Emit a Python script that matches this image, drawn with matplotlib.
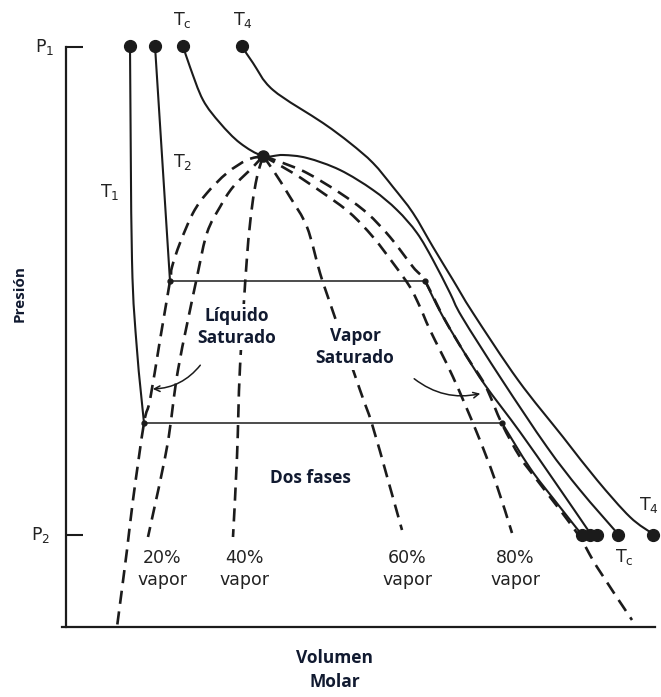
import numpy as np
import matplotlib
matplotlib.use('Agg')
import matplotlib.pyplot as plt
from matplotlib.path import Path
from matplotlib.patches import PathPatch

plt.rcParams['lines.scale_dashes'] = False
plt.rcParams['mathtext.fontset'] = 'dejavusans'

# Schematic P-V diagram, arbitrary units (volume, pressure).
crit = (197, 471)
p_high = 581
p_low = 92

# Isotherms: (volume, pressure) points.
t1_liq = [(64, 581), (66, 367), (71, 277), (78, 204)]
t1_tie = [(78, 204), (436, 204)]
t1_vap = [(436, 204), (464, 159), (490, 125), (516, 92)]

t2_liq = [(89, 581), (104, 346)]
t2_tie = [(104, 346), (359, 346)]
t2_vap = [(359, 346), (376, 312), (401, 270), (419, 242), (454, 195), (489, 145), (524, 94)]

tc_curve = [(117, 581), (124, 560), (137, 527), (154, 504), (174, 484), (197, 471),
            (217, 472), (241, 469), (274, 457), (307, 437), (331, 417), (351, 394),
            (367, 367), (384, 334), (396, 310), (436, 247), (481, 180), (514, 137),
            (552, 93)]

t4_curve = [(177, 579), (187, 564), (207, 537), (257, 504), (284, 484),
            (307, 464), (327, 440), (347, 414), (367, 380), (387, 347), (407, 314),
            (452, 247), (497, 190), (531, 147), (564, 110), (587, 93)]

# Dashed quality lines from the critical point.
sat_liquid = [(197, 471), (181, 467), (161, 454), (141, 434), (127, 414), (114, 384),
              (106, 360), (104, 346), (94, 287), (84, 227), (78, 204), (67, 127),
              (61, 77), (51, 0)]
vapor_20 = [(197, 471), (187, 460), (167, 440), (154, 420), (141, 394), (131, 350),
            (112, 257), (101, 180), (82, 90)]
vapor_40 = [(197, 471), (191, 450), (186, 420), (181, 370), (174, 260),
            (171, 170), (167, 90)]
vapor_60 = [(197, 471), (207, 457), (224, 430), (241, 400), (254, 354), (264, 324),
            (294, 237), (306, 203), (322, 147), (336, 97)]
vapor_80 = [(197, 471), (227, 454), (257, 434), (284, 414), (307, 390), (327, 364),
            (344, 340), (354, 320), (364, 297), (387, 250), (411, 194), (429, 147),
            (446, 94)]
sat_vapor = [(197, 471), (217, 464), (241, 454), (274, 434), (301, 414), (324, 390),
             (347, 360), (359, 346), (379, 307), (401, 270), (419, 242), (436, 203),
             (454, 170), (471, 147), (511, 94), (531, 60), (566, 7)]

top_dots_v = [64, 89, 117, 176]
bottom_dots_v = [516, 524, 531, 552, 587]
corner_dots = [(78, 204), (436, 204), (104, 346), (359, 346)]

quality_labels = ['20%\nvapor', '40%\nvapor', '60%\nvapor', '80%\nvapor']
quality_label_v = [96, 178, 341, 449]

ink = '#1b1b1b'
text_blue = '#111a30'

fig = plt.figure(figsize=(6.61, 6.97), dpi=100)
ax = fig.add_axes([0, 0, 1, 1])
ax.set_xlim(-66, 595)
ax.set_ylim(-70, 627)

# Axes drawn as spines.
for side in ['top', 'right']:
    ax.spines[side].set_visible(False)
ax.spines['left'].set_position(('data', 0))
ax.spines['left'].set_bounds(0, 580)
ax.spines['bottom'].set_position(('data', 0))
ax.spines['bottom'].set_bounds(-4, 589)
for side in ['left', 'bottom']:
    ax.spines[side].set_linewidth(1.6)
    ax.spines[side].set_color(ink)
ax.set_xticks([])
ax.set_yticks([p_low, 580])
ax.set_yticklabels([])
ax.tick_params(axis='y', direction='in', length=12.5, width=1.5, color=ink)
ax.patch.set_visible(False)


# Smooth curve through the points (Catmull-Rom handles as Bezier controls).
def curve(points, **kw):
    pts = np.array(points, dtype=float)
    verts = [pts[0]]
    codes = [Path.MOVETO]
    n = len(pts)
    for i in range(n - 1):
        p0 = pts[i - 1] if i > 0 else pts[i]
        p1 = pts[i]
        p2 = pts[i + 1]
        p3 = pts[i + 2] if i + 2 < n else pts[i + 1]
        verts += [p1 + (p2 - p0) / 6, p2 - (p3 - p1) / 6, p2]
        codes += [Path.CURVE4] * 3
    ax.add_patch(PathPatch(Path(verts, codes), fill=False, edgecolor=ink, **kw))


dash = (0, (9.5, 5.5))
for c in [sat_liquid, vapor_20, vapor_40, vapor_60, vapor_80, sat_vapor]:
    curve(c, lw=1.9, linestyle=dash)

for c in [t1_liq, t1_vap, t2_liq, t2_vap, tc_curve, t4_curve]:
    curve(c, lw=1.5, capstyle='round')
for c in [t1_tie, t2_tie]:
    curve(c, lw=1.1)

ax.plot(top_dots_v, [p_high] * len(top_dots_v), 'o', color=ink, ms=8.5)
ax.plot(bottom_dots_v, [p_low] * len(bottom_dots_v), 'o', color=ink, ms=8.5)
ax.plot(*crit, 'o', color=ink, ms=8)
cd = np.array(corner_dots)
ax.plot(cd[:, 0], cd[:, 1], 'o', color=ink, ms=3.5)

# Arrows to the saturation curves.
ax.annotate('', xy=(84, 238), xytext=(136, 264),
            arrowprops=dict(arrowstyle='->', color=ink, lw=1.1,
                            connectionstyle='arc3,rad=-0.25'))
ax.annotate('', xy=(417, 234), xytext=(346, 250),
            arrowprops=dict(arrowstyle='->', color=ink, lw=1.1,
                            connectionstyle='arc3,rad=0.25'))

# Labels.
scan = dict(color='#222222', family='DejaVu Sans', fontsize=12.5)
for lab, v in zip(quality_labels, quality_label_v):
    ax.text(v, 58, lab, ha='center', va='center', linespacing=1.3, **scan)

ax.text(34, 435, 'T$_1$', ha='left', va='center', **scan)
ax.text(107, 465, 'T$_2$', ha='left', va='center', **scan)
ax.text(107, 607, r'T$_\mathrm{c}$', ha='left', va='center', **scan)
ax.text(167, 607, 'T$_4$', ha='left', va='center', **scan)
ax.text(549, 70, r'T$_\mathrm{c}$', ha='left', va='center', **scan)
ax.text(593, 122, 'T$_4$', ha='right', va='center', **scan)
ax.text(-12, 580, 'P$_1$', ha='right', va='center', **scan)
ax.text(-16, p_low, 'P$_2$', ha='right', va='center', **scan)

bold = dict(color=text_blue, family='Open Sans', fontweight='bold', fontsize=12.5)
box = dict(facecolor='white', edgecolor='none', pad=2)
ax.text(171, 300, 'Líquido\nSaturado', ha='center', va='center', linespacing=1.35,
        bbox=box, zorder=4, **bold)
ax.text(289, 280, 'Vapor\nSaturado', ha='center', va='center', linespacing=1.35,
        bbox=box, zorder=4, **bold)
ax.text(244, 149, 'Dos fases', ha='center', va='center', **bold)
ax.text(269, -43, 'Volumen\nMolar', ha='center', va='center', linespacing=1.45, **bold)
ax.text(-46, 334, 'Presión', ha='center', va='center', rotation=90,
        color=text_blue, family='Open Sans', fontweight='bold', fontsize=11)

fig.savefig('out.png', dpi=100, facecolor='white')
